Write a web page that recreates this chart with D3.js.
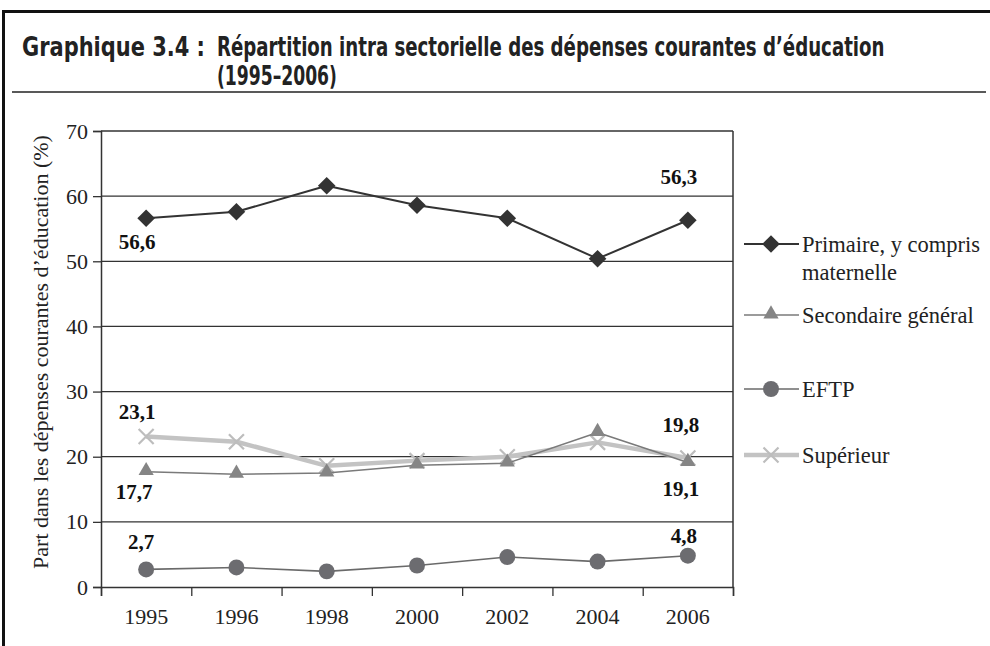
<!DOCTYPE html>
<html>
<head>
<meta charset="utf-8">
<script src="https://cdn.jsdelivr.net/npm/d3@7/dist/d3.min.js"></script>
<style>
  html, body { margin: 0; padding: 0; background: #fff; }
  svg { display: block; }
</style>
</head>
<body>
<svg id="chart" width="990" height="646"></svg>
<script>
// Years on the horizontal axis
const years = ["1995", "1996", "1998", "2000", "2002", "2004", "2006"];

// Share of current education spending by sub-sector (%)
const primaire   = [56.6, 57.6, 61.6, 58.6, 56.6, 50.4, 56.3];
const secondaire = [17.7, 17.3, 17.5, 18.7, 19.0, 23.7, 19.1];
const eftp       = [2.7, 3.0, 2.4, 3.3, 4.6, 3.9, 4.8];
const superieur  = [23.1, 22.3, 18.6, 19.4, 20.0, 22.2, 19.8];

const yTicks = [0, 10, 20, 30, 40, 50, 60, 70];

const seriesNames = ["Primaire, y compris maternelle", "Secondaire général", "EFTP", "Supérieur"];

const svg = d3.select("#chart");
const serif = "'Liberation Serif', 'Times New Roman', serif";
const narrow = "'Liberation Sans Narrow', 'DejaVu Sans Condensed', sans-serif";

// ---- Frame and title ----
svg.append("line").attr("x1", 3.5).attr("x2", 3.5).attr("y1", 10).attr("y2", 646)
  .attr("stroke", "#111").attr("stroke-width", 3);
svg.append("line").attr("x1", 2).attr("x2", 990).attr("y1", 11.5).attr("y2", 11.5)
  .attr("stroke", "#111").attr("stroke-width", 3);
svg.append("line").attr("x1", 12).attr("x2", 986).attr("y1", 92).attr("y2", 92)
  .attr("stroke", "#222").attr("stroke-width", 1.5);

// Title pieces, each squeezed horizontally to a condensed width
const titleParts = [
  { text: "Graphique 3.4 :", x: 22, y: 56, w: 183 },
  { text: "Répartition intra sectorielle des dépenses courantes d’éducation", x: 217, y: 56, w: 668 },
  { text: "(1995–2006)", x: 217, y: 85, w: 120 }
];
titleParts.forEach(p => {
  const g = svg.append("g");
  const t = g.append("text").attr("x", 0).attr("y", 0)
    .attr("font-family", narrow).attr("font-weight", "bold")
    .attr("font-size", 27).attr("fill", "#222").text(p.text);
  const natural = t.node().getComputedTextLength();
  g.attr("transform", `translate(${p.x},${p.y}) scale(${p.w / natural},1)`);
});

// ---- Scales ----
const plot = { left: 101, right: 733, top: 131, bottom: 587 };
const x = d3.scaleBand().domain(years).range([plot.left, plot.right]);
const xEdge = d3.scaleLinear().domain([0, years.length]).range([plot.left, plot.right]);
const y = d3.scaleLinear().domain([0, 70]).range([plot.bottom, plot.top]);
const cx = d => x(d) + x.bandwidth() / 2;

// ---- Gridlines ----
svg.append("g").selectAll("line").data(yTicks.filter(t => t > 0)).join("line")
  .attr("x1", plot.left).attr("x2", plot.right)
  .attr("y1", d => y(d)).attr("y2", d => y(d))
  .attr("stroke", "#333").attr("stroke-width", 1.3);

// Right border of the plot area
svg.append("line").attr("x1", plot.right).attr("x2", plot.right)
  .attr("y1", plot.top).attr("y2", plot.bottom)
  .attr("stroke", "#333").attr("stroke-width", 1.5);

// ---- Y axis ----
const yAxis = svg.append("g").attr("transform", `translate(${plot.left},0)`)
  .call(d3.axisLeft(y).tickValues(yTicks).tickSize(8).tickPadding(5).tickFormat(d3.format("d")));
yAxis.select(".domain").attr("stroke", "#333").attr("stroke-width", 1.5);
yAxis.selectAll(".tick line").attr("stroke", "#333").attr("stroke-width", 1.3);
yAxis.selectAll("text").attr("font-family", serif).attr("font-size", 22).attr("fill", "#222");

// ---- X axis: tick marks between categories, labels centred ----
const xTicks = svg.append("g").attr("transform", `translate(0,${plot.bottom})`)
  .call(d3.axisBottom(xEdge).tickValues(d3.range(years.length + 1)).tickSize(9).tickFormat(""));
xTicks.select(".domain").attr("stroke", "#333").attr("stroke-width", 1.5);
xTicks.selectAll(".tick line").attr("stroke", "#333").attr("stroke-width", 1.3);

const xLabels = svg.append("g").attr("transform", `translate(0,${plot.bottom})`)
  .call(d3.axisBottom(x).tickSize(0).tickPadding(21));
xLabels.select(".domain").remove();
xLabels.selectAll("text").attr("font-family", serif).attr("font-size", 22).attr("fill", "#222");

// ---- Y axis title ----
svg.append("text")
  .attr("transform", `translate(48,${(plot.top + plot.bottom) / 2 - 7}) rotate(-90)`)
  .attr("text-anchor", "middle").attr("font-family", serif).attr("font-size", 22).attr("fill", "#222")
  .text("Part dans les dépenses courantes d’éducation (%)");

// ---- Marker shapes ----
const markerPath = {
  diamond: d3.symbol().type(d3.symbolSquare).size(155)(),
  triangle: d3.symbol().type(d3.symbolTriangle).size(100)(),
  circle: d3.symbol().type(d3.symbolCircle).size(200)(),
  cross: "M-7.5,-7.5L7.5,7.5M-7.5,7.5L7.5,-7.5"
};

const series = [
  { name: seriesNames[0], values: primaire,   line: "#333", lw: 2,   marker: "diamond",  mfill: "#333", rot: 45 },
  { name: seriesNames[1], values: secondaire, line: "#7a7a7a", lw: 1.6, marker: "triangle", mfill: "#858585", rot: 0 },
  { name: seriesNames[2], values: eftp,       line: "#6a6a6a", lw: 1.6, marker: "circle",   mfill: "#6c6c70", rot: 0 },
  { name: seriesNames[3], values: superieur,  line: "#c3c3c3", lw: 4.5, marker: "cross",    mfill: "none", rot: 0 }
];

function drawMarker(g, s, px, py) {
  const p = g.append("path").attr("d", markerPath[s.marker])
    .attr("transform", `translate(${px},${py}) rotate(${s.rot})` + (s.marker === "triangle" ? " translate(0,-1)" : ""));
  if (s.marker === "cross") {
    p.attr("fill", "none").attr("stroke", "#bdbdbd").attr("stroke-width", 2.2);
  } else {
    p.attr("fill", s.mfill);
  }
}

const line = d3.line().x((d, i) => cx(years[i])).y(d => y(d));

// Draw series: Supérieur first so that the others sit on top where they cross
const drawOrder = [3, 1, 2, 0];
drawOrder.forEach(k => {
  const s = series[k];
  const g = svg.append("g");
  g.append("path").datum(s.values).attr("d", line)
    .attr("fill", "none").attr("stroke", s.line).attr("stroke-width", s.lw)
    .attr("stroke-linejoin", "round");
  s.values.forEach((v, i) => drawMarker(g, s, cx(years[i]), y(v)));
});

// ---- Data labels (first and last year) ----
const labels = [
  { values: primaire,   i: 0, dx: -9, dy: 31 },
  { values: primaire,   i: 6, dx: -9, dy: -36 },
  { values: secondaire, i: 0, dx: -12, dy: 27 },
  { values: secondaire, i: 6, dx: -7, dy: 33 },
  { values: superieur,  i: 0, dx: -9, dy: -18 },
  { values: superieur,  i: 6, dx: -7, dy: -26 },
  { values: eftp,       i: 0, dx: -5, dy: -20 },
  { values: eftp,       i: 6, dx: -4, dy: -13 }
];
const fmt = v => d3.format(".1f")(v).replace(".", ",");
svg.append("g").selectAll("text").data(labels).join("text")
  .attr("x", d => cx(years[d.i]) + d.dx)
  .attr("y", d => y(d.values[d.i]) + d.dy)
  .attr("text-anchor", "middle").attr("font-family", serif).attr("font-weight", "bold")
  .attr("font-size", 21).attr("fill", "#111")
  .text(d => fmt(d.values[d.i]));

// ---- Legend ----
const legendRows = [
  { s: series[0], y: 244, lines: ["Primaire, y compris", "maternelle"] },
  { s: series[1], y: 315, lines: ["Secondaire général"] },
  { s: series[2], y: 389, lines: ["EFTP"] },
  { s: series[3], y: 455, lines: ["Supérieur"] }
];
const legend = svg.append("g");
legendRows.forEach(r => {
  const g = legend.append("g");
  g.append("line").attr("x1", 744).attr("x2", 799).attr("y1", r.y).attr("y2", r.y)
    .attr("stroke", r.s.line).attr("stroke-width", r.s.lw);
  drawMarker(g, r.s, 771, r.y);
  r.lines.forEach((t, j) => {
    g.append("text").attr("x", 802).attr("y", r.y + 8 + j * 28)
      .attr("font-family", serif).attr("font-size", 22.5).attr("fill", "#222").text(t);
  });
});
</script>
</body>
</html>
